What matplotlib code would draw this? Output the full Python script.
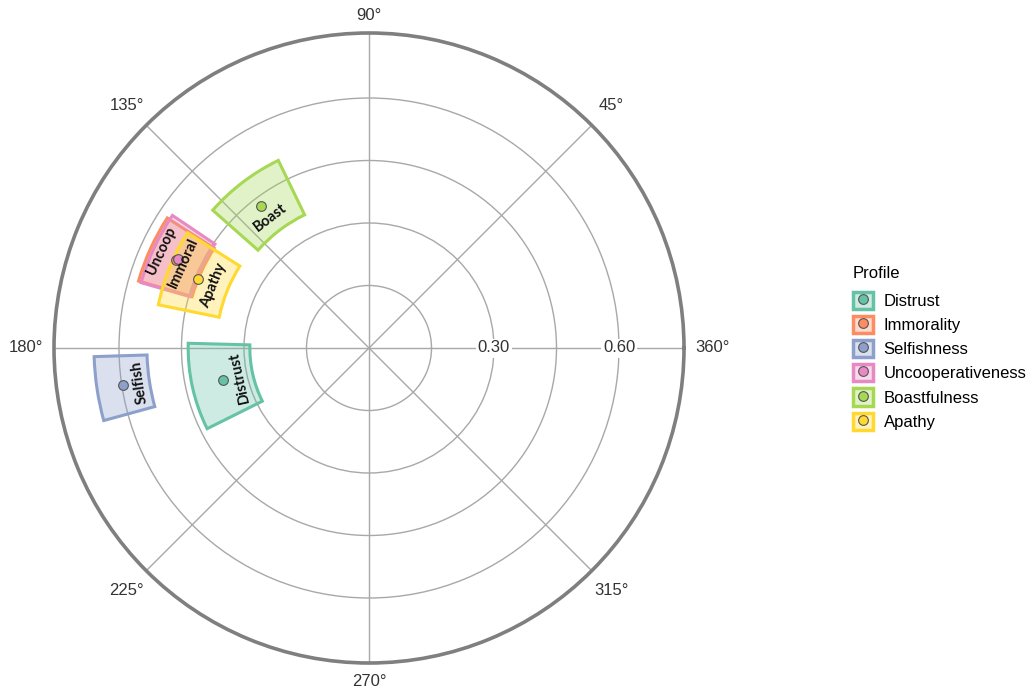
import numpy as np
import matplotlib
matplotlib.use("Agg")
import matplotlib.pyplot as plt
from matplotlib.patches import Patch
from matplotlib.lines import Line2D
from matplotlib.legend_handler import HandlerTuple
from matplotlib.colors import to_rgba

# ---- data ----
profiles = ["Distrust", "Immorality", "Selfishness", "Uncooperativeness", "Boastfulness", "Apathy"]
short_labels = ["Distrust", "Immoral", "Selfish", "Uncoop", "Boast", "Apathy"]
theta_deg = [192.5, 155.5, 188.5, 155.0, 127.2, 158.0]
theta_lo = [178.5, 147.2, 181.8, 146.0, 115.8, 147.6]
theta_hi = [206.5, 163.8, 195.3, 164.0, 138.6, 168.4]
radius = [0.360, 0.510, 0.596, 0.507, 0.428, 0.442]
r_lo = [0.286, 0.442, 0.533, 0.446, 0.355, 0.367]
r_hi = [0.434, 0.576, 0.660, 0.569, 0.500, 0.516]
colors = ["#66C2A5", "#FC8D62", "#8DA0CB", "#E78AC3", "#A6D854", "#FFD92F"]
label_offset = [-0.040, -0.020, -0.038, 0.042, -0.036, -0.040]

theta_ticks = [0, 45, 90, 135, 180, 225, 270, 315]
theta_ticklabels = ["360°", "45°", "90°", "135°", "180°", "225°", "270°", "315°"]
r_grid = [0.15, 0.30, 0.45, 0.60]
r_ticklabels = ["", "0.30", "", "0.60"]
r_max = 0.756

plt.rcParams["font.family"] = ["Liberation Sans", "DejaVu Sans"]

W, H = 1027, 693
fig = plt.figure(figsize=(W / 100, H / 100), dpi=100)
cx, cy, R = 369, 348, 315
ax = fig.add_axes([(cx - R) / W, (H - cy - R) / H, 2 * R / W, 2 * R / H], projection="polar")
ax.set_ylim(0, r_max)
ax.set_thetagrids(theta_ticks, [""] * len(theta_ticks))
ax.set_rgrids(r_grid, [""] * len(r_grid))
ax.grid(True, color="#a8a8a8", linewidth=1.0)
ax.spines["polar"].set_color("#7f7f7f")
ax.spines["polar"].set_linewidth(2.6)
ax.set_axisbelow(True)

# angular tick labels placed just outside the outer ring (pixel gap -> data radius)
label_px = {0: 343, 45: 343, 90: 332, 135: 343, 180: 343, 225: 343, 270: 334, 315: 343}
for t, lab in zip(theta_ticks, theta_ticklabels):
    ax.text(np.deg2rad(t), r_max * label_px[t] / R, lab, ha="center", va="center",
            fontsize=12, color="#333333", clip_on=False)

for rv, lab in zip(r_grid, r_ticklabels):
    if lab:
        ax.text(0, rv, lab, ha="center", va="center", fontsize=12, color="#333333",
                bbox=dict(facecolor="white", edgecolor="none", pad=1.5), zorder=2)

handles = []
for i in range(len(profiles)):
    t0 = np.deg2rad(theta_lo[i])
    t1 = np.deg2rad(theta_hi[i])
    ax.bar((t0 + t1) / 2, r_hi[i] - r_lo[i], width=t1 - t0, bottom=r_lo[i],
           facecolor=to_rgba(colors[i], 0.32), edgecolor=colors[i], linewidth=2.2, zorder=3)
    ax.plot(np.deg2rad(theta_deg[i]), radius[i], "o", markersize=7, markerfacecolor=colors[i],
            markeredgecolor="#555555", markeredgewidth=0.8, zorder=5)
    patch = Patch(facecolor=to_rgba(colors[i], 0.32), edgecolor=colors[i], linewidth=2.5)
    mk = Line2D([], [], marker="o", linestyle="none", markersize=7, markerfacecolor=colors[i],
                markeredgecolor="#555555", markeredgewidth=0.8)
    handles.append((patch, mk))

for i in range(len(profiles)):
    ax.text(np.deg2rad(theta_deg[i]), radius[i] + label_offset[i], short_labels[i],
            rotation=theta_deg[i] - 90, rotation_mode="anchor", ha="center", va="center",
            fontsize=10.5, fontweight="bold", family=["Lato", "DejaVu Sans"], color="#111111", zorder=6)

leg = fig.legend(handles, profiles, handler_map={tuple: HandlerTuple(ndivide=1)},
                 loc="upper left", bbox_to_anchor=(846 / W, 1 - 259 / H), frameon=False,
                 title="Profile", fontsize=12, title_fontsize=12, alignment="left",
                 handlelength=1.2, handleheight=1.2, labelspacing=0.42, handletextpad=0.65,
                 borderaxespad=0)
leg._legend_box.sep = 8

fig.savefig("out.png", dpi=100)
